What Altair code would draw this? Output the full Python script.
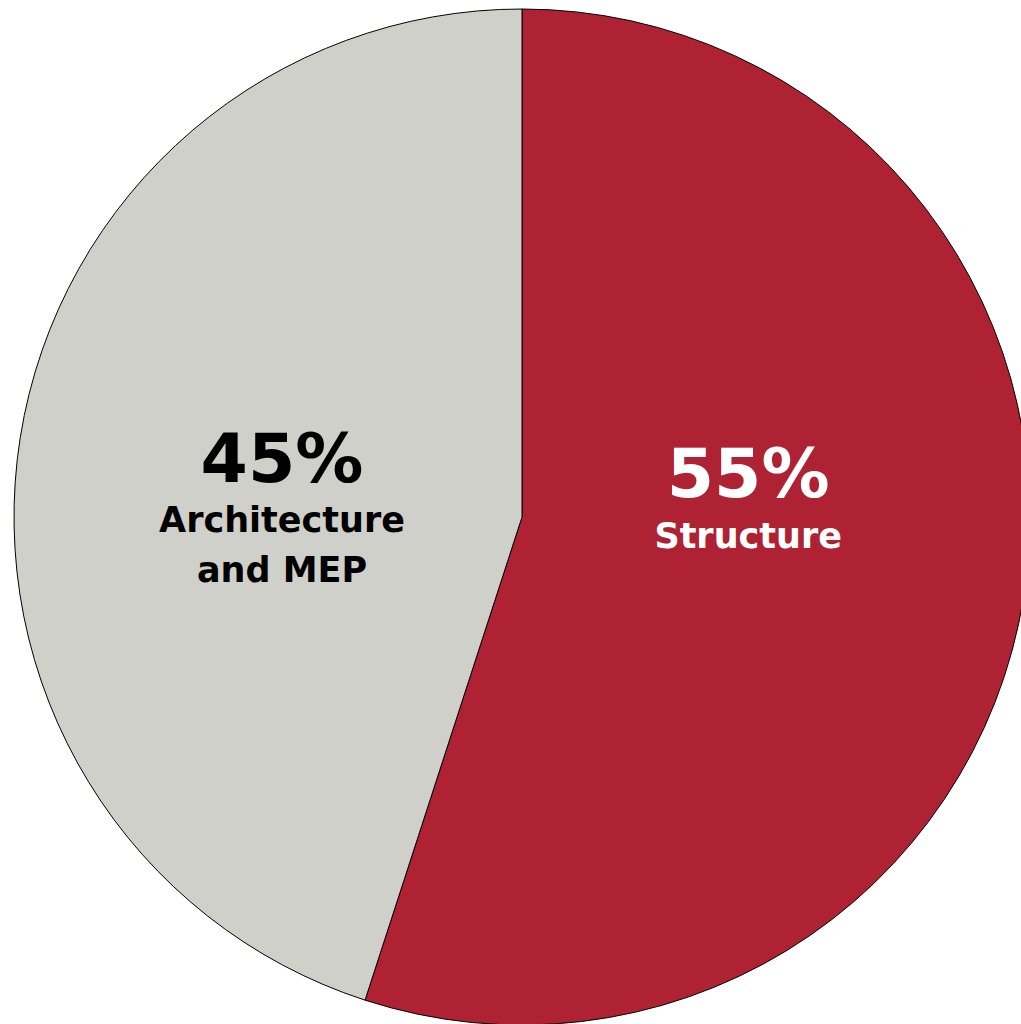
import math
import altair as alt
import pandas as pd

categories = ["Structure", "Architecture and MEP"]
values = [55, 45]
pct_labels = ["55%", "45%"]
name_labels = ["Structure", "Architecture\nand MEP"]
order = [1, 2]
colors = ["#AE2233", "#D0D0CB"]

df = pd.DataFrame({
    "category": categories,
    "value": values,
    "pct": pct_labels,
    "name": name_labels,
    "order": order,
})

W, H = 1021, 1024
CX, CY = 522, 517
R = 508

theta_scale = alt.Scale(domain=[0, 1], range=[0, 2 * math.pi])

base = alt.Chart(df).transform_window(
    cum="sum(value)", sort=[alt.SortField("order")], frame=[None, 0]
).transform_joinaggregate(
    total="sum(value)"
).transform_calculate(
    start="(datum.cum - datum.value) / datum.total",
    end="datum.cum / datum.total",
    mid="(datum.cum - datum.value / 2) / datum.total",
).encode(
    x=alt.value(CX),
    y=alt.value(CY),
)

arcs = base.mark_arc(outerRadius=R, stroke="black", strokeWidth=1).encode(
    theta=alt.Theta("start:Q", stack=None, scale=theta_scale),
    theta2="end:Q",
    color=alt.Color("category:N", scale=alt.Scale(domain=categories, range=colors), legend=None),
)

FONT = "DejaVu Sans"


def texts(cat, radius, pct_dy, name_dy, color):
    b = base.transform_filter(alt.datum.category == cat).encode(
        theta=alt.Theta("mid:Q", stack=None, scale=theta_scale)
    )
    pct = b.mark_text(radius=radius, font=FONT, fontWeight="bold", fontSize=68,
                      baseline="alphabetic", align="center", dy=pct_dy, color=color).encode(
        text="pct:N"
    )
    name = b.mark_text(radius=radius, font=FONT, fontWeight="bold", fontSize=35,
                       baseline="alphabetic", align="center", dy=name_dy, color=color,
                       lineBreak="\n", lineHeight=50).encode(
        text="name:N"
    )
    return pct + name


red_txt = texts("Structure", 229, -56, -5, "white")
grey_txt = texts("Architecture and MEP", 243, 3, 53, "black")

chart = alt.layer(arcs, red_txt, grey_txt).properties(
    width=W, height=H, padding=0,
    autosize=alt.AutoSizeParams(type="none"),
    background="white",
).configure_view(stroke=None)

chart.save("out.html", embed_options={"renderer": "svg", "actions": False})
